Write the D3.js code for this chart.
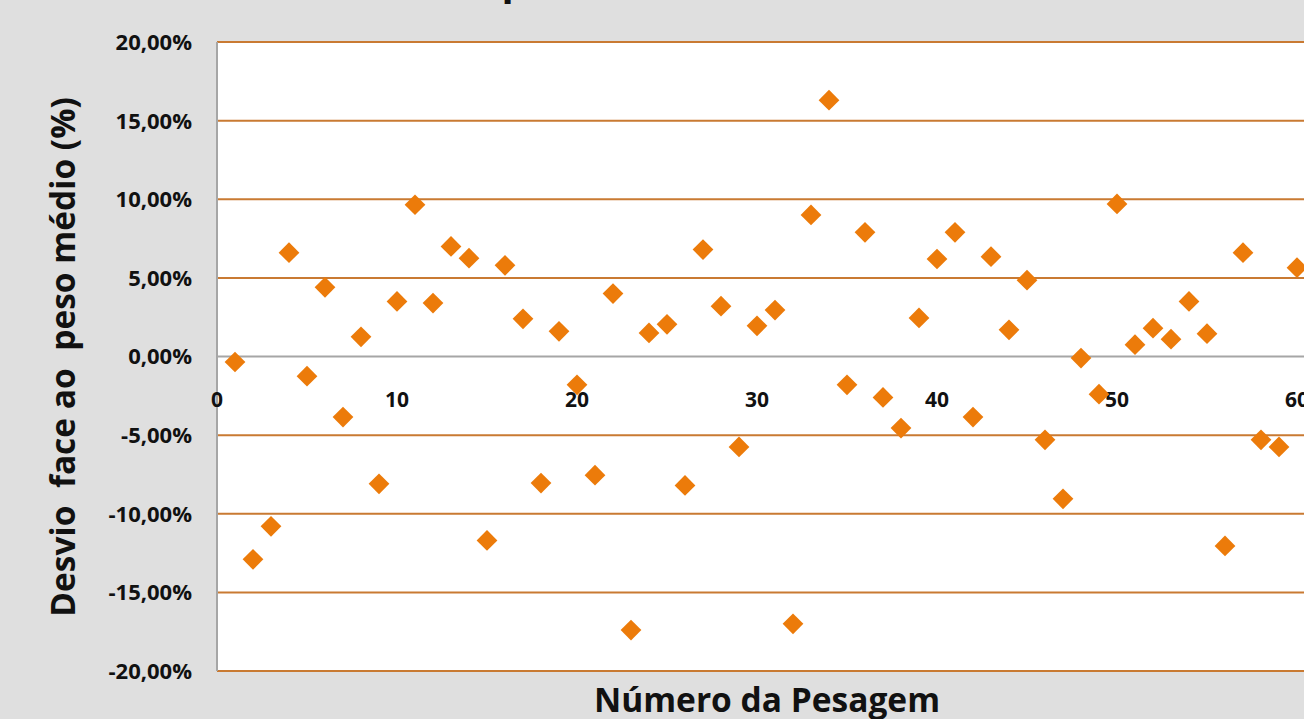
<!DOCTYPE html>
<html><head><meta charset="utf-8">
<script src="https://cdn.jsdelivr.net/npm/d3@7"></script>
<style>
html,body{margin:0;padding:0;background:#dfdfdf;overflow:hidden;}
svg{display:block;font-family:"Open Sans",sans-serif;}
</style></head><body>
<svg id="c" width="1304" height="719"></svg>
<script>
const pesagem = d3.range(1, 61);
const desvio = [-0.35,-12.9,-10.8,6.6,-1.25,4.4,-3.85,1.25,-8.1,3.5,
  9.65,3.4,7.0,6.25,-11.7,5.8,2.4,-8.05,1.6,-1.8,
  -7.55,4.0,-17.4,1.5,2.05,-8.2,6.8,3.2,-5.75,1.95,
  2.95,-17.0,9.0,16.3,-1.8,7.9,-2.6,-4.55,2.45,6.2,
  7.9,-3.85,6.35,1.7,4.85,-5.3,-9.05,-0.1,-2.4,9.7,
  0.75,1.8,1.1,3.5,1.45,-12.05,6.6,-5.3,-5.75,5.65];
const yTicks = [-20,-15,-10,-5,0,5,10,15,20];
const xTicks = [0,10,20,30,40,50,60];
const titleText = "Desvio face ao peso médio";
const xTitle = "Número da Pesagem";
const yTitle = "Desvio\u00a0 face ao\u00a0 peso médio (%)";

(function(){
const svg = d3.select("#c");
const W = 1304, H = 719;
const pLeft = 217, pTop = 42, pBottom = 671;
const x = d3.scaleLinear().domain([0, 70]).range([pLeft, pLeft + 18 * 70]);
const y = d3.scaleLinear().domain([-20, 20]).range([pBottom, pTop]);

svg.append("rect").attr("width", W).attr("height", H).attr("fill", "#dfdfdf");
svg.append("rect").attr("x", pLeft).attr("y", pTop).attr("width", x(70) - pLeft).attr("height", pBottom - pTop).attr("fill", "#ffffff");

svg.append("g").selectAll("line").data(yTicks.filter(d => d !== 0)).join("line")
  .attr("x1", pLeft).attr("x2", x(70))
  .attr("y1", d => y(d)).attr("y2", d => y(d))
  .attr("stroke", "#c97a32").attr("stroke-width", 2);

svg.append("line").attr("x1", pLeft).attr("x2", pLeft).attr("y1", pTop).attr("y2", pBottom)
  .attr("stroke", "#a6a6a6").attr("stroke-width", 2);
svg.append("line").attr("x1", pLeft).attr("x2", x(70)).attr("y1", y(0)).attr("y2", y(0))
  .attr("stroke", "#a6a6a6").attr("stroke-width", 2);

const fmt = v => v.toFixed(2).replace(".", ",") + "%";
svg.append("g").selectAll("text").data(yTicks).join("text")
  .attr("x", 192).attr("y", d => y(d)).attr("dy", "0.36em")
  .attr("text-anchor", "end").attr("font-size", 22).attr("font-weight", 700).attr("fill", "#111")
  .text(fmt);
svg.append("g").selectAll("text").data(xTicks).join("text")
  .attr("x", d => x(d)).attr("y", y(0) + 50).attr("text-anchor", "middle")
  .attr("font-size", 21).attr("font-weight", 700).attr("fill", "#111")
  .text(d => d);

svg.append("g").selectAll("path").data(pesagem).join("path")
  .attr("d", d3.symbol(d3.symbolSquare, 215))
  .attr("transform", (d, i) => `translate(${x(d)},${y(desvio[i])}) rotate(45)`)
  .attr("fill", "#ec7b0a");

svg.append("text").attr("x", 767).attr("y", 712).attr("text-anchor", "middle")
  .attr("font-size", 33.5).attr("font-weight", 700).attr("fill", "#111").text(xTitle);
svg.append("text").attr("transform", "translate(75,357) rotate(-90)").attr("text-anchor", "middle")
  .attr("font-size", 33.5).attr("font-weight", 700).attr("fill", "#111").text(yTitle);

const t = svg.append("text").attr("y", -5).attr("font-size", 40).attr("font-weight", 700).attr("fill", "#111");
t.text(titleText);
const tmp = svg.append("text").attr("font-size", 40).attr("font-weight", 700).text("Desvio face ao ");
const pre = tmp.node().getComputedTextLength();
tmp.remove();
t.attr("x", 491 - pre);
})();
</script>
</body></html>
